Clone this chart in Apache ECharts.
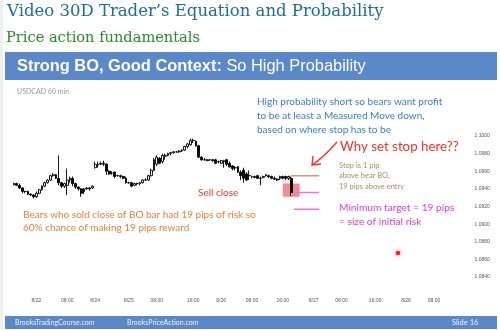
<!DOCTYPE html>
<html>
<head>
<meta charset="utf-8">
<script src="https://cdn.jsdelivr.net/npm/echarts@6/dist/echarts.min.js"></script>
<style>
  html, body { margin: 0; padding: 0; background: #fff; }
  #myEchArt { width: 500px; height: 330px; }
</style>
</head>
<body>
<div id="myEchArt"></div>
<script>
// USDCAD 60 min - one slot per bar, empty slots on the right
const slotCount = 155;
const tickSlots = [8, 19, 29, 41, 51, 64, 74, 85, 96, 107, 117, 129, 140, 150];
const tickLabels = ['8/22', '08:00', '8/24', '8/25', '08:00', '16:00', '8/26', '08:00', '16:00', '8/27', '08:00', '16:00', '8/28', '08:00'];
const priceMin = 1.0840, priceMax = 1.1000, priceStep = 0.0020;

const opens = [
  1.0946, 1.0946, 1.0944, 1.0941, 1.0937, 1.0937, 1.0934, 1.0933, 1.0931, 1.0935,
  1.0939, 1.0943, 1.0947, 1.0950, 1.0955, 1.0956, 1.0952, 1.0947, 1.0943, 1.0944,
  1.0950, 1.0952, 1.0946, 1.0942, 1.0940, 1.0937, 1.0940, 1.0941, 1.0941, 1.0964,
  1.0967, 1.0968, 1.0969, 1.0968, 1.0960, 1.0958, 1.0959, 1.0955, 1.0955, 1.0954,
  1.0952, 1.0947, 1.0947, 1.0944, 1.0946, 1.0946, 1.0947, 1.0950, 1.0950, 1.0955,
  1.0961, 1.0968, 1.0975, 1.0971, 1.0977, 1.0978, 1.0980, 1.0981, 1.0982, 1.0982,
  1.0983, 1.0984, 1.0988, 1.0990, 1.0995, 1.0994, 1.0989, 1.0976, 1.0973, 1.0973,
  1.0973, 1.0973, 1.0973, 1.0971, 1.0969, 1.0972, 1.0973, 1.0969, 1.0966, 1.0964,
  1.0965, 1.0959, 1.0961, 1.0957, 1.0955, 1.0954, 1.0954, 1.0955, 1.0952, 1.0953,
  1.0955, 1.0955, 1.0954, 1.0952, 1.0951, 1.0952, 1.0954, 1.0954, 1.0952, 1.0952
];
const closes = [
  1.0945, 1.0944, 1.0941, 1.0937, 1.0937, 1.0934, 1.0933, 1.0931, 1.0935, 1.0939,
  1.0943, 1.0947, 1.0950, 1.0955, 1.0956, 1.0952, 1.0947, 1.0943, 1.0946, 1.0950,
  1.0952, 1.0946, 1.0942, 1.0940, 1.0935, 1.0940, 1.0941, 1.0940, 1.0943, 1.0968,
  1.0968, 1.0969, 1.0968, 1.0960, 1.0957, 1.0958, 1.0954, 1.0955, 1.0954, 1.0952,
  1.0947, 1.0947, 1.0943, 1.0946, 1.0946, 1.0947, 1.0950, 1.0950, 1.0955, 1.0961,
  1.0973, 1.0976, 1.0969, 1.0978, 1.0978, 1.0980, 1.0981, 1.0982, 1.0982, 1.0983,
  1.0984, 1.0988, 1.0991, 1.0995, 1.0995, 1.0989, 1.0976, 1.0973, 1.0973, 1.0972,
  1.0973, 1.0972, 1.0969, 1.0971, 1.0972, 1.0971, 1.0968, 1.0965, 1.0963, 1.0964,
  1.0959, 1.0955, 1.0952, 1.0950, 1.0955, 1.0954, 1.0953, 1.0952, 1.0952, 1.0954,
  1.0956, 1.0954, 1.0952, 1.0951, 1.0950, 1.0954, 1.0952, 1.0952, 1.0954, 1.0936
];
const lows = [
  1.0944, 1.0943, 1.0940, 1.0935, 1.0935, 1.0933, 1.0932, 1.0929, 1.0930, 1.0934,
  1.0938, 1.0942, 1.0946, 1.0949, 1.0954, 1.0951, 1.0944, 1.0941, 1.0941, 1.0933,
  1.0947, 1.0943, 1.0940, 1.0938, 1.0931, 1.0934, 1.0939, 1.0938, 1.0940, 1.0963,
  1.0964, 1.0967, 1.0966, 1.0956, 1.0956, 1.0956, 1.0952, 1.0954, 1.0952, 1.0951,
  1.0946, 1.0946, 1.0942, 1.0943, 1.0944, 1.0944, 1.0946, 1.0949, 1.0949, 1.0954,
  1.0960, 1.0966, 1.0968, 1.0969, 1.0973, 1.0977, 1.0978, 1.0980, 1.0981, 1.0981,
  1.0982, 1.0983, 1.0986, 1.0989, 1.0992, 1.0988, 1.0975, 1.0972, 1.0972, 1.0972,
  1.0972, 1.0971, 1.0968, 1.0969, 1.0968, 1.0964, 1.0966, 1.0964, 1.0961, 1.0961,
  1.0958, 1.0950, 1.0947, 1.0949, 1.0950, 1.0952, 1.0952, 1.0951, 1.0944, 1.0952,
  1.0954, 1.0952, 1.0951, 1.0950, 1.0949, 1.0950, 1.0951, 1.0950, 1.0950, 1.0932
];
const highs = [
  1.0947, 1.0947, 1.0946, 1.0942, 1.0938, 1.0938, 1.0935, 1.0934, 1.0937, 1.0940,
  1.0944, 1.0948, 1.0951, 1.0956, 1.0958, 1.0957, 1.0978, 1.0948, 1.0947, 1.0963,
  1.0954, 1.0954, 1.0947, 1.0943, 1.0941, 1.0941, 1.0942, 1.0942, 1.0944, 1.0971,
  1.0971, 1.0971, 1.0972, 1.0969, 1.0961, 1.0960, 1.0960, 1.0956, 1.0956, 1.0955,
  1.0954, 1.0948, 1.0948, 1.0947, 1.0947, 1.0948, 1.0951, 1.0952, 1.0956, 1.0963,
  1.0975, 1.0978, 1.0976, 1.0980, 1.0980, 1.0981, 1.0982, 1.0983, 1.0983, 1.0984,
  1.0985, 1.0989, 1.0992, 1.0997, 1.0997, 1.0995, 1.0990, 1.0977, 1.0975, 1.0974,
  1.0974, 1.0974, 1.0974, 1.0972, 1.0973, 1.0973, 1.0974, 1.0971, 1.0967, 1.0966,
  1.0966, 1.0961, 1.0964, 1.0959, 1.0961, 1.0955, 1.0955, 1.0956, 1.0954, 1.0955,
  1.0957, 1.0956, 1.0955, 1.0954, 1.0952, 1.0955, 1.0955, 1.0955, 1.0955, 1.0954
];

const pip = 0.0001;
const boIndex = opens.length - 1;          // bear breakout bar
const stopPrice = highs[boIndex] + pip;     // 1 pip above the bar
const entryPrice = closes[boIndex];         // sell the close
const targetPrice = entryPrice - (stopPrice - entryPrice); // measured move = risk

const categories = Array.from({ length: slotCount }, (_, i) => String(i));
const candles = opens.map((o, i) => [o, closes[i], lows[i], highs[i]]);

const bodyFont = 'Lato, "Noto Sans", sans-serif';

function seg(price, from, to, color) {
  return {
    type: 'line',
    data: [[String(from), price], [String(to), price]],
    symbol: 'none',
    silent: true,
    lineStyle: { color: color, width: 1.5 },
    z: 3
  };
}

let myChart = echarts.init(document.getElementById('myEchArt'), null, { renderer: 'canvas' });
let option = {
  animation: false,
  backgroundColor: '#ffffff',
  grid: { left: 12.6, right: 53.4, top: 136, bottom: 53 },
  xAxis: {
    type: 'category',
    data: categories,
    boundaryGap: true,
    axisLine: { show: false },
    axisTick: { show: false },
    splitLine: { show: false },
    axisLabel: {
      margin: 21,
      fontSize: 5,
      color: '#555',
      interval: (idx) => tickSlots.includes(idx),
      formatter: (val, idx) => tickLabels[tickSlots.indexOf(Number(val))] || ''
    }
  },
  yAxis: {
    type: 'value',
    position: 'right',
    min: priceMin,
    max: priceMax,
    interval: priceStep,
    axisLine: { show: false },
    axisTick: { show: false },
    splitLine: { show: false },
    axisLabel: {
      margin: 28,
      fontSize: 5,
      color: '#555',
      formatter: (v) => v.toFixed(4)
    }
  },
  series: [
    {
      type: 'candlestick',
      data: candles,
      barWidth: 2.4,
      itemStyle: {
        color: '#ffffff',
        color0: '#000000',
        borderColor: '#000000',
        borderColor0: '#000000',
        borderColorDoji: '#000000',
        borderWidth: 0.9
      },
      markArea: {
        silent: true,
        data: [
          [
            { coord: [String(boIndex - 3), stopPrice], itemStyle: { color: 'rgba(240,150,160,0.25)' } },
            { coord: [String(boIndex), entryPrice + 10 * pip] }
          ],
          [
            { coord: [String(boIndex - 3), entryPrice + 10 * pip], itemStyle: { color: 'rgba(230,70,85,0.62)' } },
            { coord: [String(boIndex + 3), entryPrice - 5 * pip] }
          ]
        ]
      },
      z: 2
    },
    seg(stopPrice, boIndex, boIndex + 10, '#bf9f7f'),
    seg(entryPrice, boIndex + 1, boIndex + 10, '#ea74dc'),
    seg(targetPrice, boIndex + 1, boIndex + 10, '#ea74dc')
  ],
  graphic: [
    { type: 'rect', shape: { x: 0, y: 0, width: 3, height: 330 }, style: { fill: '#f0f0f0' }, silent: true },
    {
      type: 'text',
      style: { x: 7, y: 12, text: 'Video 30D Trader\u2019s Equation and Probability', font: '16.5px "DejaVu Serif", serif', fill: '#1b6f96', verticalAlign: 'middle' }
    },
    {
      type: 'text',
      style: { x: 6, y: 38, text: 'Price action fundamentals', font: '14.6px "DejaVu Serif", serif', fill: '#2b8b2b', verticalAlign: 'middle' }
    },
    { type: 'rect', shape: { x: 5, y: 52, width: 492, height: 28 }, style: { fill: '#5a88c9' }, silent: true },
    {
      type: 'text',
      style: {
        x: 17, y: 66, text: '{b|Strong BO, Good Context:} So High Probability',
        font: '16.4px "Liberation Sans", Arial, sans-serif', fill: '#ffffff', verticalAlign: 'middle',
        rich: { b: { fontWeight: 'bold', fontSize: 16.4, fontFamily: '"Liberation Sans", Arial, sans-serif', fill: '#ffffff' } }
      }
    },
    {
      type: 'text',
      style: { x: 17, y: 92, text: 'USDCAD 60 min', font: '7px ' + bodyFont, fill: '#999999', verticalAlign: 'middle' }
    },
    {
      type: 'text',
      style: {
        x: 257, y: 95, text: 'High probability short so bears want profit\nto be at least a Measured Move down,\nbased on where stop has to be',
        font: '10px ' + bodyFont, fill: '#3b7ec4', lineHeight: 14
      }
    },
    {
      type: 'text',
      style: { x: 340, y: 147, text: 'Why set stop here??', font: '13.3px ' + bodyFont, fill: '#ee3326', verticalAlign: 'middle' }
    },
    {
      type: 'bezierCurve',
      shape: { x1: 337, y1: 142, x2: 312, y2: 165, cpx1: 330, cpy1: 150, cpx2: 320, cpy2: 160 },
      style: { stroke: '#ee3326', lineWidth: 1.4, fill: null }
    },
    {
      type: 'polyline',
      shape: { points: [[313, 156], [312, 165], [321, 164]] },
      style: { stroke: '#ee3326', lineWidth: 1.4, fill: null }
    },
    {
      type: 'text',
      style: {
        x: 339, y: 160, text: 'Stop is 1 pip\nabove bear BO,\n19 pips above entry',
        font: '7.5px ' + bodyFont, fill: '#a88c60', lineHeight: 10.5
      }
    },
    {
      type: 'text',
      style: {
        x: 339, y: 201, text: 'Minimum target = 19 pips\n= size of initial risk',
        font: '10.2px ' + bodyFont, fill: '#dd40d8', lineHeight: 13.5
      }
    },
    {
      type: 'text',
      style: { x: 198, y: 193, text: 'Sell close', font: '10px ' + bodyFont, fill: '#e23a2e', verticalAlign: 'middle' }
    },
    {
      type: 'text',
      style: {
        x: 23, y: 208, text: 'Bears who sold close of BO bar had 19 pips of risk so\n60% chance of making 19 pips reward',
        font: '10px ' + bodyFont, fill: '#e2813c', lineHeight: 13
      }
    },
    {
      type: 'circle',
      shape: { cx: 398, cy: 253, r: 2.2 },
      style: { fill: '#e02828', shadowBlur: 4, shadowColor: 'rgba(230,40,40,0.8)' },
      silent: true
    },
    { type: 'rect', shape: { x: 5, y: 316, width: 492, height: 13 }, style: { fill: '#5a88c9' }, silent: true },
    {
      type: 'text',
      style: { x: 15, y: 322.5, text: 'BrooksTradingCourse.com', font: '7px ' + bodyFont, fill: '#eef3fb', verticalAlign: 'middle' }
    },
    {
      type: 'text',
      style: { x: 127, y: 322.5, text: 'BrooksPriceAction.com', font: '7px ' + bodyFont, fill: '#eef3fb', verticalAlign: 'middle' }
    },
    {
      type: 'text',
      style: { x: 452, y: 322.5, text: 'Slide 16', font: '7.5px ' + bodyFont, fill: '#eef3fb', verticalAlign: 'middle' }
    }
  ]
};
myChart.setOption(option);
</script>
</body>
</html>
